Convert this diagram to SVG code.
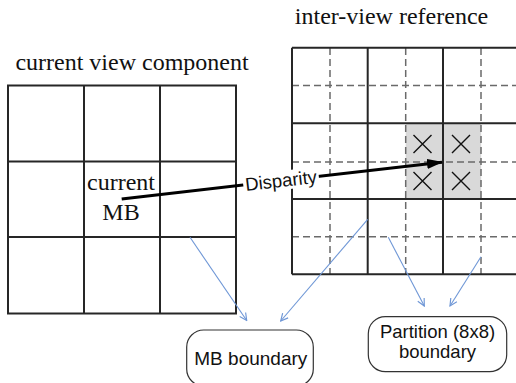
<svg xmlns="http://www.w3.org/2000/svg" width="516" height="383" viewBox="0 0 516 383">
  <style>
    .title { font-family: "Liberation Serif", "Times New Roman", serif; font-size: 24px; fill: #111; }
    .sans { font-family: "Liberation Sans", Arial, sans-serif; fill: #111; }
    .grid { stroke: #262626; stroke-width: 2; fill: none; }
    .dash { stroke: #6a6a6a; stroke-width: 1.5; stroke-dasharray: 7 4; fill: none; }
    .cross { stroke: #111; stroke-width: 1.4; }
    .note { stroke: #6f97d6; stroke-width: 1.1; fill: none; }
    .callout { fill: #fff; stroke: #333; stroke-width: 1.2; }
  </style>
  <defs>
    <marker id="blueHead" viewBox="0 0 10 10" refX="9" refY="5" markerWidth="9" markerHeight="9" markerUnits="userSpaceOnUse" orient="auto">
      <path d="M1,1 L9,5 L1,9" fill="none" stroke="#6f97d6" stroke-width="1.3"/>
    </marker>
    <marker id="blackHead" viewBox="0 0 16 10" refX="15" refY="5" markerWidth="16" markerHeight="10" markerUnits="userSpaceOnUse" orient="auto">
      <path d="M0,0 L16,5 L0,10 Z" fill="#000"/>
    </marker>
  </defs>

  <rect width="516" height="383" fill="#fff"/>

  <!-- current view component: 3x3 macroblocks -->
  <g id="current-view">
    <text class="title" x="132" y="70" text-anchor="middle">current view component</text>
    <rect class="grid" x="8" y="85.5" width="228" height="228"/>
    <path class="grid" d="M84,85.5 V313.5 M160,85.5 V313.5 M8,161.5 H236 M8,237 H236"/>
    <text class="title" x="121" y="190" text-anchor="middle">current</text>
    <text class="title" x="121" y="220" text-anchor="middle">MB</text>
  </g>

  <!-- inter-view reference: macroblocks with 8x8 partitions -->
  <g id="inter-view">
    <text class="title" x="391.5" y="24" text-anchor="middle">inter-view reference</text>
    <rect x="405.7" y="123.3" width="75.5" height="75.7" fill="#d9d9d9"/>
    <path class="dash" d="M330,48 V274 M405.7,48 V274 M481,48 V274 M292,85.5 H516 M292,162 H516 M292,236.7 H516"/>
    <path class="grid" d="M292,47.7 H516 M292,123.3 H516 M292,199 H516 M292,274.3 H516 M292,47.7 V274.3 M367.7,47.7 V274.3 M443,47.7 V274.3"/>
    <path class="cross" d="M413.5,135 L431.5,153 M431.5,135 L413.5,153 M452,135 L470,153 M470,135 L452,153 M413.5,172 L431.5,190 M431.5,172 L413.5,190 M452,172 L470,190 M470,172 L452,190"/>
  </g>

  <!-- connectors -->
  <g id="connectors">
    <line x1="121.7" y1="199" x2="442" y2="162.2" stroke="#000" stroke-width="3" marker-end="url(#blackHead)"/>
    <g transform="rotate(-6.57 281 180.6)">
      <rect x="243" y="171" width="76" height="19" fill="#fff"/>
      <text class="sans" x="281" y="187" font-size="18.5" text-anchor="middle">Disparity</text>
    </g>
    <line class="note" x1="190" y1="237.3" x2="246.7" y2="320.5" marker-end="url(#blueHead)"/>
    <line class="note" x1="367.7" y1="219.3" x2="280.7" y2="321" marker-end="url(#blueHead)"/>
    <line class="note" x1="388.3" y1="237.3" x2="424.3" y2="306" marker-end="url(#blueHead)"/>
    <line class="note" x1="481" y1="256.7" x2="450" y2="306" marker-end="url(#blueHead)"/>
  </g>

  <!-- callout: MB boundary -->
  <g id="mb-boundary">
    <rect class="callout" x="186.7" y="330" width="126.6" height="56" rx="17"/>
    <text class="sans" x="250.8" y="365" font-size="19" text-anchor="middle">MB boundary</text>
  </g>

  <!-- callout: Partition (8x8) boundary -->
  <g id="partition-boundary">
    <rect class="callout" x="368.3" y="316.7" width="138.4" height="55" rx="17"/>
    <text class="sans" x="437.5" y="338.3" font-size="18.5" text-anchor="middle">Partition (8x8)</text>
    <text class="sans" x="437.5" y="358.3" font-size="18.5" text-anchor="middle">boundary</text>
  </g>
</svg>
